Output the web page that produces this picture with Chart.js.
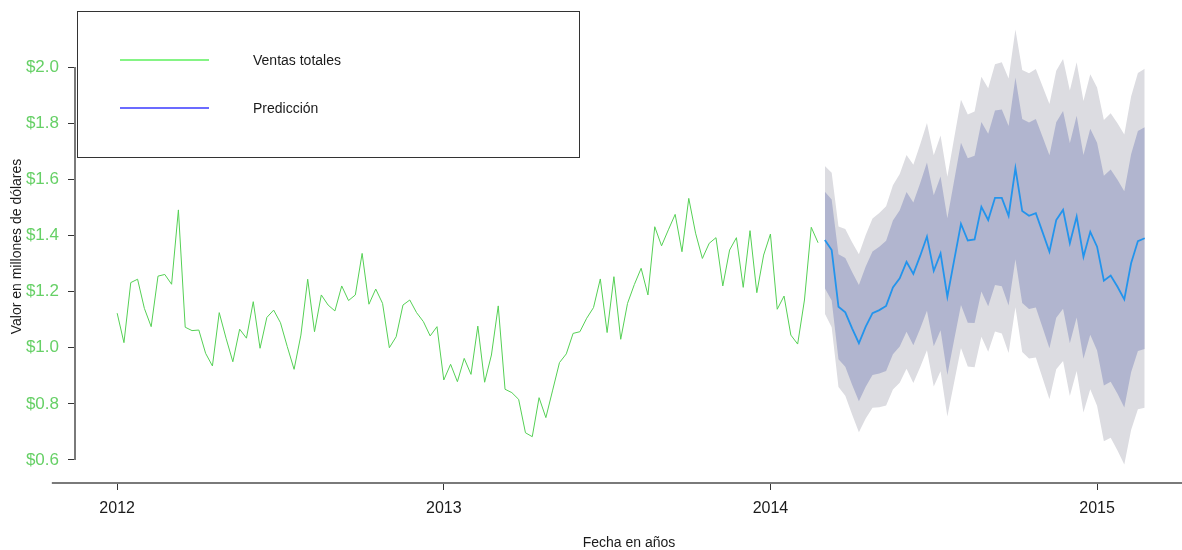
<!DOCTYPE html>
<html>
<head>
<meta charset="utf-8">
<script src="https://cdn.jsdelivr.net/npm/chart.js@4.4.1/dist/chart.umd.min.js"></script>
<style>
  html, body { margin: 0; padding: 0; background: #ffffff; }
  #wrap { width: 1182px; height: 550px; position: relative; }
</style>
</head>
<body>
<div id="wrap"><canvas id="c" width="1182" height="550"></canvas></div>
<script>
// Weekly sales series (48 periods per year), in millions of dollars
const startYear = 2012;
const periodsPerYear = 48;
const forecastStart = 104; // first forecast period, counted from startYear

const ventas = [
  1.123, 1.018, 1.232, 1.244, 1.140, 1.075, 1.255, 1.261, 1.226, 1.491,
  1.073, 1.061, 1.063, 0.980, 0.935, 1.125, 1.034, 0.950, 1.066, 1.034,
  1.164, 0.998, 1.108, 1.134, 1.089, 1.004, 0.923, 1.045, 1.244, 1.057,
  1.188, 1.152, 1.131, 1.220, 1.168, 1.188, 1.336, 1.155, 1.209, 1.158,
  1.000, 1.039, 1.152, 1.170, 1.125, 1.093, 1.042, 1.075, 0.885, 0.941,
  0.879, 0.962, 0.905, 1.077, 0.877, 0.974, 1.149, 0.852, 0.840, 0.816,
  0.697, 0.683, 0.822, 0.751, 0.849, 0.947, 0.978, 1.051, 1.057, 1.105,
  1.143, 1.245, 1.054, 1.253, 1.030, 1.158, 1.225, 1.283, 1.188, 1.431,
  1.363, 1.420, 1.475, 1.342, 1.532, 1.408, 1.318, 1.372, 1.392, 1.220,
  1.348, 1.392, 1.215, 1.417, 1.196, 1.330, 1.405, 1.137, 1.184, 1.045,
  1.013, 1.170, 1.429, 1.374
];

// Point forecast and its 80% / 95% intervals
const prediccion = [
  1.384, 1.348, 1.146, 1.126, 1.069, 1.016, 1.075, 1.123, 1.134, 1.149,
  1.215, 1.247, 1.306, 1.263, 1.327, 1.396, 1.274, 1.336, 1.182, 1.312,
  1.441, 1.382, 1.386, 1.502, 1.455, 1.534, 1.534, 1.470, 1.639, 1.487,
  1.470, 1.479, 1.411, 1.342, 1.455, 1.491, 1.372, 1.467, 1.324, 1.413,
  1.360, 1.239, 1.257, 1.217, 1.172, 1.301, 1.380, 1.390
];
const hi80 = [
  1.556, 1.528, 1.333, 1.320, 1.270, 1.223, 1.289, 1.343, 1.360, 1.381,
  1.453, 1.490, 1.555, 1.517, 1.586, 1.660, 1.543, 1.610, 1.461, 1.596,
  1.730, 1.675, 1.684, 1.804, 1.762, 1.845, 1.849, 1.790, 1.963, 1.815,
  1.802, 1.815, 1.751, 1.686, 1.803, 1.843, 1.728, 1.826, 1.687, 1.780,
  1.730, 1.613, 1.635, 1.598, 1.557, 1.689, 1.772, 1.785
];
const lo80 = [
  1.212, 1.168, 0.959, 0.932, 0.868, 0.809, 0.861, 0.903, 0.908, 0.917,
  0.977, 1.004, 1.057, 1.009, 1.068, 1.132, 1.005, 1.062, 0.903, 1.028,
  1.152, 1.089, 1.088, 1.200, 1.148, 1.223, 1.219, 1.150, 1.315, 1.159,
  1.138, 1.143, 1.071, 0.998, 1.107, 1.139, 1.016, 1.108, 0.961, 1.046,
  0.990, 0.865, 0.879, 0.836, 0.787, 0.913, 0.988, 0.995
];
const hi95 = [
  1.647, 1.623, 1.432, 1.423, 1.376, 1.333, 1.402, 1.460, 1.480, 1.504,
  1.579, 1.619, 1.687, 1.652, 1.724, 1.801, 1.686, 1.756, 1.609, 1.747,
  1.883, 1.831, 1.842, 1.965, 1.924, 2.010, 2.017, 1.959, 2.134, 1.989,
  1.978, 1.993, 1.931, 1.868, 1.987, 2.029, 1.916, 2.017, 1.879, 1.974,
  1.927, 1.811, 1.835, 1.800, 1.760, 1.895, 1.979, 1.994
];
const lo95 = [
  1.121, 1.073, 0.860, 0.829, 0.762, 0.699, 0.748, 0.786, 0.788, 0.794,
  0.851, 0.875, 0.925, 0.874, 0.930, 0.991, 0.862, 0.916, 0.755, 0.877,
  0.999, 0.933, 0.930, 1.039, 0.986, 1.058, 1.051, 0.981, 1.144, 0.985,
  0.962, 0.965, 0.891, 0.816, 0.923, 0.953, 0.828, 0.917, 0.769, 0.852,
  0.793, 0.667, 0.679, 0.634, 0.584, 0.707, 0.781, 0.786
];

const yearTicks = [2012, 2013, 2014, 2015];
const valueTicks = [0.6, 0.8, 1.0, 1.2, 1.4, 1.6, 1.8, 2.0];

const FONT = "'Liberation Sans', Arial, Helvetica, sans-serif";
Chart.defaults.font.family = FONT;

const timeAt = (i) => startYear + i / periodsPerYear;
const histPoints = (arr) => arr.map((v, i) => ({ x: timeAt(i), y: v }));
const fcPoints = (arr) => arr.map((v, j) => ({ x: timeAt(forecastStart + j), y: v }));

const COL = {
  ventas: '#55d055',
  ventasLegend: '#5cf05c',
  pred: '#2394ec',
  predLegend: '#3a3aff',
  band80: '#b1b5cf',
  band95: '#dcdce1',
  tickLabel: '#66d066',
  axis: '#7a7a7a',
  text: '#1a1a1a'
};

// Axis lines and the boxed legend
const decorations = {
  id: 'decorations',
  afterDraw(chart) {
    const { ctx, chartArea, scales } = chart;
    const x = scales.x, y = scales.y;
    ctx.save();

    // value axis spans only the labelled range
    ctx.strokeStyle = COL.axis;
    ctx.lineWidth = 2;
    ctx.beginPath();
    ctx.moveTo(chartArea.left - 1, y.getPixelForValue(valueTicks[0]));
    ctx.lineTo(chartArea.left - 1, y.getPixelForValue(valueTicks[valueTicks.length - 1]));
    ctx.stroke();

    // time axis
    ctx.beginPath();
    ctx.moveTo(x.getPixelForValue(2011.8), chartArea.bottom + 1);
    ctx.lineTo(chart.width, chartArea.bottom + 1);
    ctx.stroke();

    // legend box
    const bx = 77, by = 11, bw = 502, bh = 146;
    ctx.fillStyle = '#ffffff';
    ctx.fillRect(bx, by, bw, bh);
    ctx.strokeStyle = '#333333';
    ctx.lineWidth = 1;
    ctx.strokeRect(bx + 0.5, by + 0.5, bw, bh);

    const entries = [
      { label: chart.data.datasets[0].label, color: COL.ventasLegend, y: 60 },
      { label: chart.data.datasets[1].label, color: COL.predLegend, y: 108 }
    ];
    ctx.font = '14px ' + FONT;
    ctx.textBaseline = 'middle';
    ctx.textAlign = 'left';
    entries.forEach(e => {
      ctx.strokeStyle = e.color;
      ctx.lineWidth = 1.5;
      ctx.beginPath();
      ctx.moveTo(120, e.y);
      ctx.lineTo(209, e.y);
      ctx.stroke();
      ctx.fillStyle = COL.text;
      ctx.fillText(e.label, 253, e.y + 1);
    });
    ctx.restore();
  }
};

new Chart(document.getElementById('c'), {
  type: 'line',
  data: {
    datasets: [
      {
        label: 'Ventas totales',
        data: histPoints(ventas),
        borderColor: COL.ventas,
        borderWidth: 1,
        pointRadius: 0,
        tension: 0,
        fill: false
      },
      {
        label: 'Predicción',
        data: fcPoints(prediccion),
        borderColor: COL.pred,
        borderWidth: 1.8,
        pointRadius: 0,
        tension: 0,
        fill: false
      },
      {
        label: 'hi80',
        data: fcPoints(hi80),
        borderWidth: 0,
        borderColor: 'rgba(0,0,0,0)',
        backgroundColor: COL.band80,
        pointRadius: 0,
        tension: 0,
        fill: '+1'
      },
      {
        label: 'lo80',
        data: fcPoints(lo80),
        borderWidth: 0,
        borderColor: 'rgba(0,0,0,0)',
        pointRadius: 0,
        tension: 0,
        fill: false
      },
      {
        label: 'hi95',
        data: fcPoints(hi95),
        borderWidth: 0,
        borderColor: 'rgba(0,0,0,0)',
        backgroundColor: COL.band95,
        pointRadius: 0,
        tension: 0,
        fill: '+1'
      },
      {
        label: 'lo95',
        data: fcPoints(lo95),
        borderWidth: 0,
        borderColor: 'rgba(0,0,0,0)',
        pointRadius: 0,
        tension: 0,
        fill: false
      }
    ]
  },
  options: {
    responsive: false,
    animation: false,
    devicePixelRatio: 1,
    layout: { padding: { top: 11, left: 0, right: 0, bottom: 0 } },
    plugins: {
      legend: { display: false },
      tooltip: { enabled: false }
    },
    scales: {
      x: {
        type: 'linear',
        min: 2011.874,
        max: 2015.26,
        afterBuildTicks: (s) => { s.ticks = yearTicks.map(v => ({ value: v })); },
        afterFit: (s) => { s.height = 68; s.paddingLeft = 0; s.paddingRight = 0; },
        border: { display: false },
        grid: {
          drawOnChartArea: false,
          drawTicks: true,
          tickLength: 8,
          color: '#333333',
          lineWidth: 1
        },
        ticks: {
          autoSkip: false,
          maxRotation: 0,
          padding: 9,
          color: COL.text,
          font: { size: 16, family: FONT },
          callback: (v) => String(v)
        },
        title: {
          display: true,
          text: 'Fecha en años',
          color: COL.text,
          font: { size: 14, family: FONT, lineHeight: 1 },
          padding: { top: 0, bottom: 0 }
        }
      },
      y: {
        type: 'linear',
        min: 0.5216,
        max: 2.1996,
        afterBuildTicks: (s) => { s.ticks = valueTicks.map(v => ({ value: v })); },
        afterFit: (s) => { s.width = 76; s.paddingTop = 0; s.paddingBottom = 0; },
        border: { display: false },
        grid: {
          drawOnChartArea: false,
          drawTicks: true,
          tickLength: 8,
          color: '#333333',
          lineWidth: 1
        },
        ticks: {
          padding: 9,
          color: COL.tickLabel,
          font: { size: 17, family: FONT },
          callback: (v) => '$' + Number(v).toFixed(1)
        },
        title: {
          display: true,
          text: 'Valor en millones de dólares',
          color: COL.text,
          font: { size: 14, family: FONT },
          padding: { top: 9, bottom: 0 }
        }
      }
    }
  },
  plugins: [decorations]
});
</script>
</body>
</html>
